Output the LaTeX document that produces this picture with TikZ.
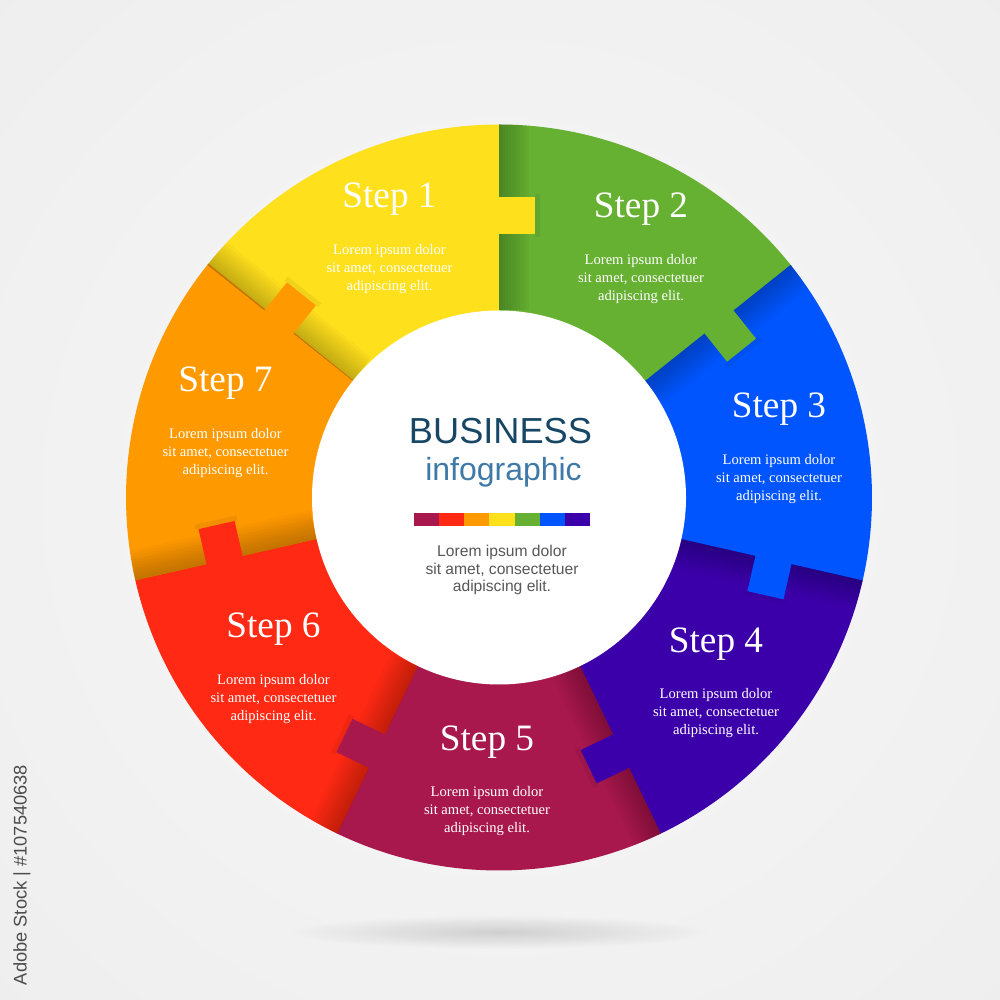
\documentclass[tikz,border=0pt]{standalone}
\usepackage{fontspec}
\setmainfont{Liberation Serif}
\setsansfont{Liberation Sans}
\usetikzlibrary{fadings}

\definecolor{stepyellow}{RGB}{255,224,29}
\definecolor{stepgreen}{RGB}{102,176,50}
\definecolor{stepblue}{RGB}{0,85,255}
\definecolor{stepindigo}{RGB}{60,0,170}
\definecolor{stepcrimson}{RGB}{168,24,76}
\definecolor{stepred}{RGB}{255,41,20}
\definecolor{steporange}{RGB}{255,153,0}
\definecolor{titleblue}{RGB}{24,71,102}
\definecolor{subblue}{RGB}{63,121,168}
\definecolor{bodygray}{RGB}{88,88,88}

\tikzfading[name=softspot, inner color=transparent!0, outer color=transparent!100]

\begin{document}
\begin{tikzpicture}
			[line cap=round,line join=round,x=1cm,y=1cm,
			steptitle/.style={text=white,anchor=base,font=\fontsize{10.6}{12}\selectfont},
			steptext/.style={text=white,align=center,font=\fontsize{4.15}{5}\selectfont},
			centretext/.style={text=bodygray,align=center,font=\sffamily\fontsize{4.45}{5.1}\selectfont}]
			\useasboundingbox (-4.99,-5.025) rectangle (5.01,4.975);
			\clip (-4.99,-5.025) rectangle (5.01,4.975);
			\shade [inner color=white!97!black,outer color=white!90!black] (0.01,0) circle (14);
			\fill [black,opacity=0.14,path fading=softspot] (0,-4.345) ellipse (2.1 and 0.17);
			% ring pieces
			\foreach \c [count=\k from 0] in {stepyellow,stepgreen,stepblue,stepindigo,stepcrimson,stepred,steporange}{
				\pgfmathsetmacro{\a}{141.4286-\k*360/7}
				\pgfmathsetmacro{\e}{\a-360/7-0.25}
				\fill [\c] (\a:1.8) -- (\a:3.73) arc[start angle=\a,end angle=\e,radius=3.73] -- (\e:1.8) -- cycle;
			}
			\begin{scope}
				\clip (0,0) circle (3.73);
				\foreach \k in {0,...,6}{
					\pgfmathsetmacro{\b}{90-\k*360/7}
					\foreach \w in {0.03,0.06,...,0.31}
						\fill [black,opacity=0.022,rotate=\b] (1.87,0) rectangle (3.73,-\w);
				}
			\end{scope}
			% tabs
			\foreach \c [count=\k from 0] in {stepyellow,stepgreen,stepblue,stepindigo,stepcrimson,stepred,steporange}{
				\pgfmathsetmacro{\b}{90-\k*360/7}
				\fill [black,opacity=0.06,rotate=\b] (2.6,-0.36) rectangle (3.03,-0.41);
				\fill [\c,rotate=\b] (2.63,0.02) rectangle (3.0,-0.36);
			}
			\fill [white] (0,0) circle (1.87);
			\foreach \n/\x/\y in {1/-1.095/2.895,2/1.42/2.795,3/2.80/0.795,4/2.17/-1.545,5/-0.12/-2.525,6/-2.255/-1.405,7/-2.735/1.055}{
				\node [steptitle] (step\n) at (\x,\y) {Step \n};
				\node [steptext] (text\n) at ([yshift=-6.1mm]step\n.base) {Lorem ipsum dolor\\sit amet, consectetuer\\adipiscing elit.};
			}
			\node [text=titleblue,anchor=base,font=\sffamily\fontsize{10.3}{12}\selectfont] (business) at (0.015,0.535) {BUSINESS};
			\node [text=subblue,anchor=base,font=\sffamily\fontsize{9.1}{11}\selectfont] (infographic) at (0.045,0.165) {infographic};
			\foreach \c [count=\i from 0] in {stepcrimson,stepred,steporange,stepyellow,stepgreen,stepblue,stepindigo}
				\fill [\c] (-0.85+0.2514*\i,-0.155) rectangle ++(0.255,-0.13);
			\node [centretext] (lorem) at (0.03,-0.725) {Lorem ipsum dolor\\sit amet, consectetuer\\adipiscing elit.};
			\node [rotate=90,text=black!70,font=\sffamily\fontsize{5.2}{6}\selectfont] (stocklabel) at (-4.77,-3.775) {Adobe Stock | \#107540638};
		\end{tikzpicture}
\end{document}
